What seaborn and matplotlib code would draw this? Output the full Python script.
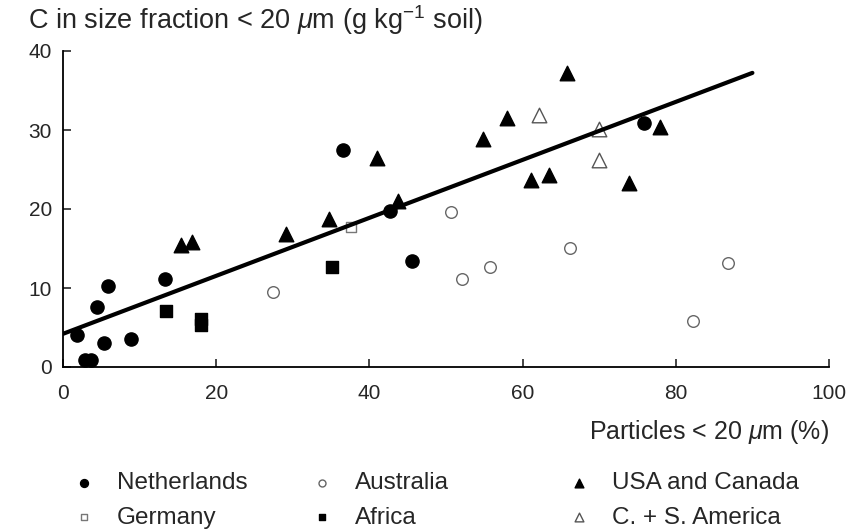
import matplotlib
matplotlib.use("Agg")
import matplotlib.pyplot as plt
import seaborn as sns
import numpy as np
import pandas as pd

# ---- data ----
nl_x = [1.8, 2.9, 3.6, 4.4, 5.9, 5.4, 8.9, 13.3, 36.6, 42.7, 45.6, 75.8]
nl_y = [4.0, 0.9, 0.9, 7.6, 10.2, 3.0, 3.5, 11.1, 27.5, 19.8, 13.4, 30.9]

au_x = [27.4, 50.7, 52.1, 55.7, 66.2, 86.8, 82.2]
au_y = [9.5, 19.6, 11.2, 12.6, 15.1, 13.2, 5.8]

us_x = [15.4, 16.8, 29.1, 34.7, 41.0, 43.7, 54.8, 58.0, 65.8, 61.1, 63.4, 73.9, 77.9]
us_y = [15.5, 15.8, 16.8, 18.7, 26.4, 21.0, 28.9, 31.5, 37.2, 23.7, 24.3, 23.3, 30.4]

de_x = [37.6]
de_y = [17.7]

af_x = [13.4, 18.0, 18.0, 35.1]
af_y = [7.1, 5.3, 6.1, 12.6]

cs_x = [62.1, 70.0, 70.0]
cs_y = [31.9, 30.1, 26.2]

fit_intercept = 4.2
fit_slope = 0.367
fit_xrange = [0, 90]

x_ticks = [0, 20, 40, 60, 80, 100]
y_ticks = [0, 10, 20, 30, 40]

# ---- style ----
sns.set_style("ticks")
plt.rcParams['font.family'] = ['Liberation Sans', 'DejaVu Sans']
plt.rcParams['mathtext.fontset'] = 'custom'
plt.rcParams['mathtext.rm'] = 'Liberation Sans'
plt.rcParams['mathtext.it'] = 'Liberation Sans:italic'

fig = plt.figure(figsize=(8.63, 5.29), dpi=100)
ax = fig.add_axes([63/863, 1-367/529, (829-63)/863, (367-51)/529])

groups = [
    ("Netherlands", nl_x, nl_y, "o", "black", "black", 90, 1.0),
    ("Germany", de_x, de_y, "s", "white", "#777777", 55, 1.0),
    ("Australia", au_x, au_y, "o", "white", "#666666", 70, 1.0),
    ("Africa", af_x, af_y, "s", "black", "black", 65, 1.0),
    ("USA and Canada", us_x, us_y, "^", "black", "black", 110, 1.0),
    ("C. + S. America", cs_x, cs_y, "^", "white", "#555555", 110, 1.0),
]

for name, xs, ys, mk, fc, ec, s, lw in groups:
    df = pd.DataFrame({"x": xs, "y": ys})
    sns.scatterplot(data=df, x="x", y="y", marker=mk, s=s, color=fc,
                    edgecolor=ec, linewidth=lw, ax=ax, label=name, zorder=3)

fit_df = pd.DataFrame({"x": fit_xrange,
                       "y": [fit_intercept + fit_slope * v for v in fit_xrange]})
sns.lineplot(data=fit_df, x="x", y="y", color="black", linewidth=3.0, ax=ax,
             zorder=4, legend=False)

handles, labels = ax.get_legend_handles_labels()
if ax.get_legend() is not None:
    ax.get_legend().remove()

ax.set_xlim(0, 100)
ax.set_ylim(0, 40)
ax.set_xticks(x_ticks)
ax.set_yticks(y_ticks)
ax.set_xticklabels([str(t) for t in x_ticks])
ax.set_yticklabels([str(t) for t in y_ticks])
ax.tick_params(direction="in", length=6, width=1.2, labelsize=15, pad=8)
ax.tick_params(axis="x", pad=12)
for side in ["top", "right"]:
    ax.spines[side].set_visible(False)
for side in ["left", "bottom"]:
    ax.spines[side].set_linewidth(1.3)
    ax.spines[side].set_color("black")

ax.set_xlabel(r"Particles < 20 $\mu$m (%)", fontsize=18, loc="right", labelpad=11)
ax.set_ylabel("")

fig.text(28/863, 1-20/529, r"C in size fraction < 20 $\mu$m (g kg$^{-1}$ soil)",
         fontsize=19.5, ha="left", va="center")

# legend in three columns
col_x = [72/863, 310/863, 567/863]
for i in range(3):
    lg = fig.legend(handles[2*i:2*i+2], labels[2*i:2*i+2],
                    loc="upper left", bbox_to_anchor=(col_x[i], 1-472/529),
                    frameon=False, fontsize=17.5, markerscale=0.6,
                    handletextpad=0.85, labelspacing=0.52, handlelength=1.0,
                    borderaxespad=0, borderpad=0)

fig.savefig("out.png", dpi=100)
